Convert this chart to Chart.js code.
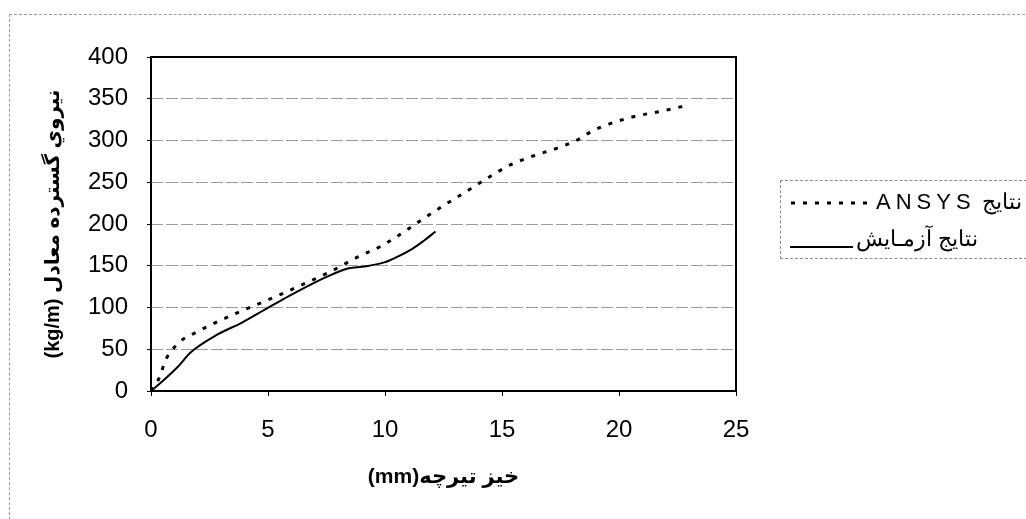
<!DOCTYPE html>
<html>
<head>
<meta charset="utf-8">
<script src="https://cdn.jsdelivr.net/npm/chart.js@4"></script>
<style>
  body { margin: 0; background: #fff; }
  #wrap { position: relative; width: 1026px; height: 519px; overflow: hidden; }
  #frame { position: absolute; left: 9px; top: 14px; width: 1030px; height: 520px;
           border-top: 1px dashed #9a9a9a; border-left: 1px dashed #9a9a9a; }
  #legend { position: absolute; left: 780px; top: 180px; width: 250px; height: 77px;
            border: 1px dashed #8a8a8a; font-family: "Liberation Sans", Arial, sans-serif; }
  .smp { position: absolute; }
  .txt { position: absolute; font-size: 22px; color: #000; white-space: nowrap; }
</style>
</head>
<body>
<div id="wrap">
  <canvas id="chart"></canvas>
  <div id="frame"></div>
  <div id="legend">
    <svg class="smp" style="left:9px;top:19px" width="84" height="6">
      <line x1="1" y1="3" x2="84" y2="3" stroke="#000" stroke-width="3" stroke-dasharray="4 8"/>
    </svg>
    <div class="txt" dir="rtl" style="left:95px;top:8px;">نتایج <span style="letter-spacing:5px">ANSYS</span></div>
    <svg class="smp" style="left:9px;top:64px" width="64" height="4">
      <line x1="0" y1="2" x2="63" y2="2" stroke="#000" stroke-width="2"/>
    </svg>
    <div class="txt" dir="rtl" style="left:75px;top:45px;">نتایج آزمـایش</div>
  </div>
</div>
<script>
// خیز تیرچه (mm) / نیروی گسترده معادل (kg/m)
const ansysX = [0, 0.34, 0.64, 0.9, 1.27, 1.77, 2.62, 3.55, 4.48, 5.49, 6.59, 7.6, 8.87, 9.8, 10.73, 11.57, 12.5, 13.48, 14.44, 15.37, 16.39, 17.57, 18.38, 18.83, 19.6, 20.7, 21.8, 22.9];
const ansysY = [0, 15, 38, 49, 60, 68, 80, 92, 103, 115, 129, 142, 161, 173, 189, 205, 222, 239, 256, 271, 282, 293, 303, 311, 320, 329, 335, 342];

const testX = [0, 0.5, 1.18, 1.69, 2.87, 3.89, 4.9, 5.91, 6.93, 7.77, 8.45, 9.12, 9.97, 10.47, 11.15, 11.66, 12.16];
const testY = [0, 12, 30, 46, 68, 82, 98, 114, 129, 140, 147, 149, 154, 160, 170, 180, 191];

const xTicks = [0, 5, 10, 15, 20, 25];
const yTicks = [0, 50, 100, 150, 200, 250, 300, 350, 400];

const seriesNames = ['نتایج ANSYS', 'نتایج آزمایش'];
const xTitle = '(mm)خیز تیرچه';
const yTitle = '(kg/m) نيروي گسترده معادل';

function toPoints(xs, ys) {
  return xs.map((x, i) => ({ x: x, y: ys[i] }));
}

const fontFam = '"Liberation Sans", Arial, "DejaVu Sans", sans-serif';

// cadre noir autour de la zone de tracé
const plotFrame = {
  id: 'plotFrame',
  afterDraw(chart) {
    const a = chart.chartArea;
    const ctx = chart.ctx;
    ctx.save();
    ctx.strokeStyle = '#000';
    ctx.lineWidth = 2;
    ctx.setLineDash([]);
    ctx.strokeRect(a.left, a.top, a.right - a.left, a.bottom - a.top);
    ctx.restore();
  }
};

new Chart(document.getElementById('chart'), {
  type: 'line',
  data: {
    datasets: [
      {
        label: seriesNames[0],
        data: toPoints(ansysX, ansysY),
        borderColor: '#000',
        borderWidth: 3,
        borderDash: [4, 8],
        borderCapStyle: 'butt',
        pointRadius: 0,
        cubicInterpolationMode: 'monotone',
        fill: false
      },
      {
        label: seriesNames[1],
        data: toPoints(testX, testY),
        borderColor: '#000',
        borderWidth: 2,
        pointRadius: 0,
        cubicInterpolationMode: 'monotone',
        fill: false
      }
    ]
  },
  options: {
    responsive: true,
    maintainAspectRatio: false,
    animation: false,
    layout: { padding: { top: 57, right: 290, left: 0, bottom: 0 } },
    plugins: { legend: { display: false }, tooltip: { enabled: false } },
    scales: {
      x: {
        type: 'linear',
        min: xTicks[0],
        max: xTicks[xTicks.length - 1],
        afterBuildTicks: (s) => { s.ticks = xTicks.map(v => ({ value: v })); },
        afterFit: (s) => { s.height = 128; },
        border: { display: false },
        grid: { drawOnChartArea: false, drawTicks: true, tickLength: 5, tickColor: '#000', lineWidth: 1 },
        ticks: { color: '#000', padding: 20, maxRotation: 0, font: { family: fontFam, size: 24 } },
        title: { display: true, text: xTitle, color: '#000', padding: { top: 0, bottom: 29 },
                 font: { family: fontFam, size: 21, weight: 'bold' } }
      },
      y: {
        min: yTicks[0],
        max: yTicks[yTicks.length - 1],
        afterBuildTicks: (s) => { s.ticks = yTicks.map(v => ({ value: v })); },
        afterFit: (s) => { s.width = 151; },
        border: { display: false, dash: [12, 3] },
        grid: { color: '#9a9a9a', lineWidth: 1, tickLength: 4, tickColor: '#000', tickBorderDash: [] },
        ticks: { color: '#000', padding: 19, font: { family: fontFam, size: 24 } },
        title: { display: true, text: yTitle, color: '#000', padding: { top: 41, bottom: 0 },
                 font: { family: fontFam, size: 20, weight: 'bold' } }
      }
    }
  },
  plugins: [plotFrame]
});
</script>
</body>
</html>
